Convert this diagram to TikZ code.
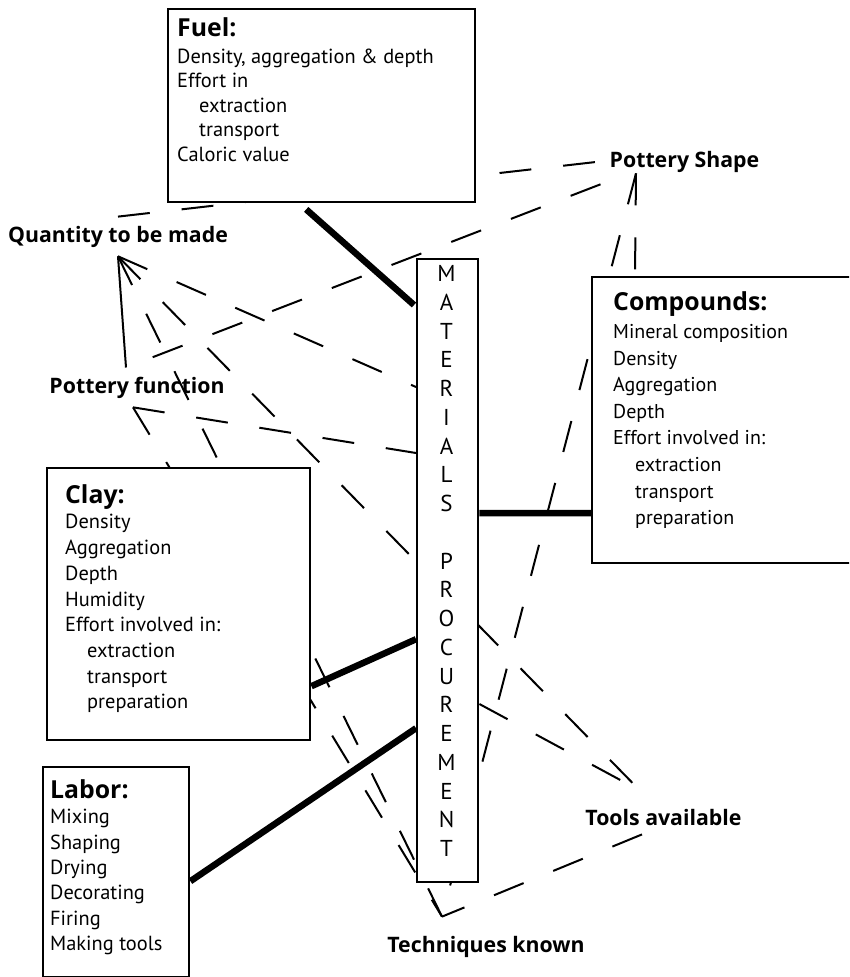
\documentclass[tikz,border=0pt]{standalone}
\usepackage{fontspec}
\setmainfont{PT Sans}
\newfontfamily\headfont{Open Sans}
\usetikzlibrary{backgrounds}
\tikzset{
  facet/.style={draw, line width=2.4pt, fill=white, anchor=north west, inner sep=0pt},
  factor/.style={font=\headfont\bfseries\fontsize{21.3}{24}\selectfont, inner sep=9pt, anchor=base},
  link/.style={line width=2pt, dash pattern=on 32pt off 32pt},
  bond/.style={line width=6.5pt},
}
\newcommand{\boxhead}[1]{{\headfont\bfseries\fontsize{24.8}{28}\selectfont #1}}
\newcommand{\indentline}[1]{\hspace*{22pt}#1}

\begin{document}
\begin{tikzpicture}[x=1pt, y=-1pt]
  \useasboundingbox (0,0) rectangle (849,977);
  \clip (0,0) rectangle (849,977);

  % the five boxes
  \node[facet, inner xsep=9pt, inner ysep=8.2pt, font=\fontsize{20.4}{24.5}\selectfont] (fuel) at (167,8)
    {\parbox[t][176.6pt][t]{289pt}{\boxhead{Fuel:}\\[2.5pt]
      Density, aggregation \& depth\\ Effort in\\ \indentline{extraction}\\ \indentline{transport}\\ Caloric value}};
  \node[facet, inner xsep=21pt, inner ysep=14.4pt, font=\fontsize{20}{26.6}\selectfont] (comp) at (591,276)
    {\parbox[t][257.2pt][t]{220pt}{\boxhead{Compounds:}\\[1.5pt]
      Mineral composition\\ Density\\ Aggregation\\ Depth\\ Effort involved in:\\
      \indentline{extraction}\\ \indentline{transport}\\ \indentline{preparation}}};
  \node[facet, inner xsep=18pt, inner ysep=16.2pt, font=\fontsize{20.4}{25.7}\selectfont] (clay) at (46,467)
    {\parbox[t][239.6pt][t]{227pt}{\boxhead{Clay:}\\
      Density\\ Aggregation\\ Depth\\ Humidity\\ Effort involved in:\\
      \indentline{extraction}\\ \indentline{transport}\\ \indentline{preparation}}};
  \node[facet, inner xsep=7pt, inner ysep=12.2pt, font=\fontsize{20.4}{25.4}\selectfont] (labor) at (42,766)
    {\parbox[t][185.6pt][t]{132pt}{\boxhead{Labor:}\\
      Mixing\\ Shaping\\ Drying\\ Decorating\\ Firing\\ Making tools}};
  \node[facet, minimum width=61pt, minimum height=623pt] (mat) at (416,258) {};
  \node[font=\fontsize{23}{28.75}\selectfont, align=center, inner sep=0pt, anchor=south] (matword) at (446.5,856.7)
    {M\\A\\T\\E\\R\\I\\A\\L\\S\\[28.75pt]P\\R\\O\\C\\U\\R\\E\\M\\E\\N\\T};

  % factors
  \node[factor] (qty) at (118,242) {Quantity to be made};
  \node[factor] (shape) at (684.5,167) {Pottery Shape};
  \node[factor] (func) at (137,393) {Pottery function};
  \node[factor] (tools) at (663.5,825) {Tools available};
  \node[factor] (tech) at (486,952) {Techniques known};

  \begin{scope}[on background layer]
    % thin links
    \draw[link] (qty.north) -- (shape.west);
    \draw[link] (qty.south) -- ([yshift=-129pt]mat.north west);
    \draw[link] (qty.south) -- ([xshift=-23.5pt,yshift=9pt]tools.north);
    \draw[link] (qty.south) -- ([xshift=-44pt,yshift=10pt]tech.north);
    \draw[line width=2pt] ([xshift=-11pt]func.north) -- (qty.south);
    \draw[link] ([yshift=-3pt]shape.south west) -- ([xshift=-11pt]func.north);
    \draw[link] ([xshift=-4pt]func.south) -- ([yshift=-195pt]mat.north west);
    \draw[link] ([xshift=-4pt]func.south) -- ([xshift=-44pt,yshift=10pt]tech.north);
    \draw[link] ([xshift=-48.5pt,yshift=8pt]shape.south) -- ([xshift=44pt]comp.north west);
    \draw[link] ([xshift=-48.5pt,yshift=8pt]shape.south) -- ([xshift=-44pt,yshift=10pt]tech.north);
    \draw[link] ([yshift=-446pt]mat.north east) -- ([xshift=-23.5pt,yshift=9pt]tools.north);
    \draw[link] ([xshift=-21.5pt]tools.south) -- ([xshift=-44pt,yshift=10pt]tech.north);
    % thick bonds to the procurement bar
    \draw[bond] ([xshift=-15.5pt,yshift=-6pt]fuel.south) -- ([xshift=-2pt,yshift=-47pt]mat.north west);
    \draw[bond] ([yshift=57.5pt]mat.east) -- ([yshift=-93pt]comp.west);
    \draw[bond] ([yshift=-82pt]clay.east) -- ([yshift=-68.5pt]mat.west);
    \draw[bond] ([yshift=-9pt]labor.east) -- ([yshift=-157.5pt]mat.west);
  \end{scope}
\end{tikzpicture}
\end{document}
